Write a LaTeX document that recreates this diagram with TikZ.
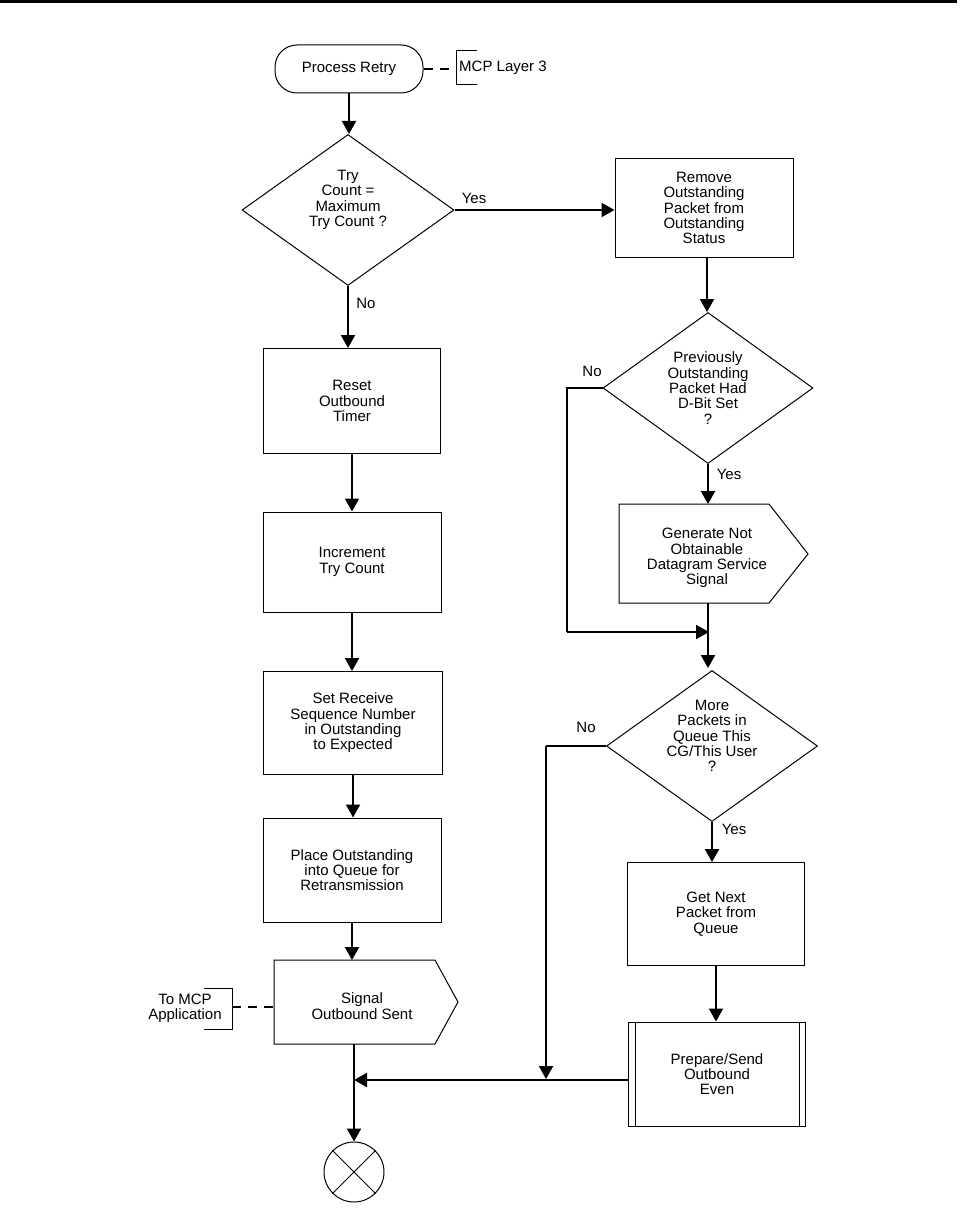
\documentclass[tikz,border=0pt]{standalone}
\usepackage{fontspec}
\setmainfont{Liberation Sans}
\usetikzlibrary{arrows.meta,shapes.geometric}
\begin{document}
\begin{tikzpicture}[x=1pt,y=-1pt,
  base/.style={font=\fontsize{15}{15.3}\selectfont, align=center, inner sep=0pt},
  box/.style={base, draw, line width=1pt, minimum width=178pt, minimum height=103pt},
  dec/.style={base, draw, diamond, aspect=1.4, line width=1pt, minimum width=212pt, minimum height=151pt},
  outline/.style={line width=1pt},
  conn/.style={line width=2.2pt},
  arr/.style={conn, -{Triangle[length=13pt,width=14pt]}},
  dsh/.style={line width=1.2pt, dash pattern=on 9pt off 7pt},
]
\useasboundingbox (0,0) rectangle (961,1212);
\fill (0,0) rectangle (957,3);

% left column
\node[base, draw, line width=1pt, rounded corners=22pt, minimum width=148pt, minimum height=48pt] (pr) at (349,69) {Process Retry};
\node[base, anchor=west] (ml3) at (459,68) {MCP Layer 3};
\draw[outline] (477,51) -- (456,51) -- (456,85) -- (477,85);
\draw[dsh] (pr.east) -- (455,69);

\node[dec] (d1) at (348,210) {};
\node[base] (d1t) at (348,200) {Try\\Count =\\Maximum\\Try Count ?};

\node[box, minimum width=177pt, minimum height=105pt] (reset) at (352,401) {Reset\\Outbound\\Timer};
\node[box, minimum height=100pt] (inc) at (352,562) {Increment\\Try Count};
\node[box, minimum width=179pt] (setr) at (353,723) {Set Receive\\Sequence Number\\in Outstanding\\to Expected};
\node[box, minimum height=104pt] (place) at (352,870) {Place Outstanding\\into Queue for\\Retransmission};

\node[base] (sig) at (362,1006) {Signal\\Outbound Sent};
\draw[outline] (274,960) -- (435,960) -- (458,1002) -- (435,1044) -- (274,1044) -- cycle;
\coordinate (sigtop) at (354,960);
\coordinate (sigbot) at (354,1044);

\node[base] (app) at (185,1008) {To MCP\\Application};
\draw[outline] (204,988) -- (232,988) -- (232,1029) -- (204,1029);
\draw[dsh] (232,1007) -- (274,1007);

\node[draw, circle, line width=1pt, minimum size=60pt, inner sep=0pt] (end) at (354,1172) {};
\draw[outline] (end.north west) -- (end.south east);
\draw[outline] (end.north east) -- (end.south west);

% right column
\node[box, minimum height=99pt] (rem) at (704,208) {Remove\\Outstanding\\Packet from\\Outstanding\\Status};
\node[dec, minimum width=210pt] (d2) at (708,388) {Previously\\Outstanding\\Packet Had\\D-Bit Set\\?};

\node[base] (gen) at (707,558) {Generate Not\\Obtainable\\Datagram Service\\Signal};
\draw[outline] (619,504) -- (769,504) -- (808,554) -- (769,603) -- (619,603) -- cycle;
\coordinate (gentop) at (708,504);
\coordinate (genbot) at (708,603);

\node[dec, minimum width=211pt] (d3) at (712,746) {};
\node[base] (d3t) at (712,736) {More\\Packets in\\Queue This\\CG/This User\\?};

\node[box, minimum width=177pt] (next) at (716,914) {Get Next\\Packet from\\Queue};
\node[box, minimum width=177pt, minimum height=104pt] (prep) at (717,1074) {Prepare/Send\\Outbound\\Even};
\draw[outline] ([xshift=7pt]prep.north west) -- ([xshift=7pt]prep.south west);
\draw[outline] ([xshift=-7pt]prep.north east) -- ([xshift=-7pt]prep.south east);

% connectors left
\draw[arr] (pr.south) -- (pr.south |- d1.north);
\draw[arr] (d1.east) -- (d1.east -| rem.west);
\node[base] (yes1) at (474,198) {Yes};
\draw[arr] (d1.south) -- (d1.south |- reset.north);
\node[base] (no1) at (366,303) {No};
\draw[arr] (reset.south) -- (reset.south |- inc.north);
\draw[arr] (inc.south) -- (inc.south |- setr.north);
\draw[arr] (setr.south) -- (setr.south |- place.north);
\draw[arr] (place.south) -- (place.south |- sigtop);
\coordinate (j) at (354,1080);
\draw[arr] (sigbot) -- (end.north);

% connectors right
\draw[arr] (707,257) -- (707,312);
\draw[arr] (d2.south) -- (gentop);
\node[base] (yes2) at (729,474) {Yes};
\coordinate (n2a) at (567,388);
\coordinate (m2) at (709,632);
\draw[conn] (d2.west) -- (n2a) -- (n2a |- m2);
\draw[arr] (n2a |- m2) -- (m2);
\node[base] (no2) at (592,371) {No};
\draw[arr] (genbot) -- (708,668);
\draw[arr] (d3.south) -- (d3.south |- next.north);
\node[base] (yes3) at (734,829) {Yes};
\draw[arr] (next.south) -- (next.south |- prep.north);
\coordinate (n3a) at (546,746);
\draw[conn] (d3.west) -- (n3a);
\draw[arr] (n3a) -- (546,1079);
\node[base] (no3) at (586,727) {No};
\draw[arr] (j -| prep.west) -- (j);
\end{tikzpicture}
\end{document}
